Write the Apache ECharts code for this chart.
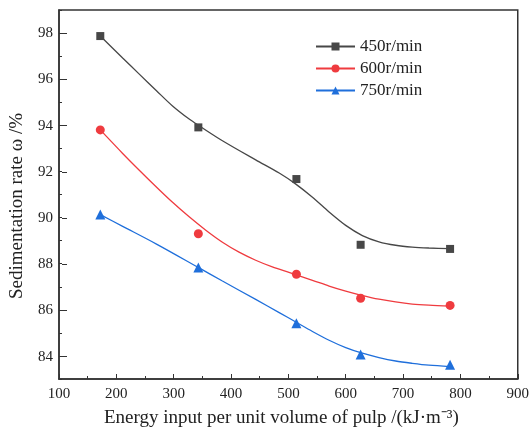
<!DOCTYPE html>
<html>
<head>
<meta charset="utf-8">
<script src="https://cdn.jsdelivr.net/npm/echarts@6/dist/echarts.min.js"></script>
<style>
html,body{margin:0;padding:0;background:#fff}
#main{width:532px;height:433px}
</style>
</head>
<body>
<div id="main"></div>
<script>
// 测量点
var energy=[172,343,514,626,782];
var speedNames=['450r/min','600r/min','750r/min'];
var rate450=[97.87,93.91,91.67,88.82,88.64];
var rate600=[93.80,89.30,87.54,86.50,86.19];
var rate750=[90.13,87.83,85.42,84.06,83.62];
// 拟合曲线
var fitX450=[172,211,240,270,298,327,345,385,443,484,513,542,571,600,629,658,687,716,745,782];
var fit450=[97.87,96.92,96.22,95.50,94.84,94.27,93.97,93.33,92.50,91.93,91.45,90.88,90.24,89.66,89.22,88.95,88.80,88.72,88.68,88.65];
var fitX600=[172,211,240,272,298,327,356,385,414,443,472,501,542,571,600,626,658,687,716,745,782];
var fit600=[93.80,92.78,92.05,91.27,90.66,90.03,89.45,88.93,88.50,88.15,87.86,87.62,87.28,87.03,86.81,86.64,86.46,86.34,86.25,86.20,86.16];
var fitX750=[172,211,270,342,385,443,484,513,542,571,600,626,658,687,716,745,782];
var fit750=[90.13,89.62,88.85,87.85,87.25,86.45,85.88,85.47,85.06,84.68,84.36,84.14,83.93,83.78,83.68,83.60,83.54];
var colors=['#474747','#ef3b3f','#1f6fdb'];
var symbols=['rect','circle','triangle'];
var symbolSizes=[8,9,10];

(function(dom){
    var chart={
        font:'"Liberation Serif","Times New Roman",serif',
        pair:function(xs,ys){
            var out=[];
            for(var i=0;i<xs.length;i++){
                out.push([xs[i],ys[i]]);
            }
            return out;
        },
        init:function(){
            var f=this.font;
            var fits=[this.pair(fitX450,fit450),this.pair(fitX600,fit600),this.pair(fitX750,fit750)];
            var pts=[rate450,rate600,rate750];
            var series=[];
            //拟合曲线
            for(var i=0;i<3;i++){
                series.push({
                    name:speedNames[i],
                    type:'line',
                    smooth:0.3,
                    symbol:symbols[i],
                    symbolSize:symbolSizes[i],
                    showSymbol:false,
                    xAxisIndex:0,
                    yAxisIndex:0,
                    itemStyle:{color:colors[i]},
                    lineStyle:{color:colors[i],width:1.3},
                    data:fits[i],
                    z:2
                });
            }
            //实验点
            for(var j=0;j<3;j++){
                series.push({
                    name:speedNames[j],
                    type:'scatter',
                    symbol:symbols[j],
                    symbolSize:symbolSizes[j],
                    xAxisIndex:0,
                    yAxisIndex:0,
                    itemStyle:{color:colors[j],opacity:1},
                    data:this.pair(energy,pts[j]),
                    z:3
                });
            }
            var option={
                animation:false,
                backgroundColor:'#fff',
                grid:[
                    {left:59,right:13,top:10,bottom:53,show:true,borderColor:'#333',borderWidth:1.5},
                    {left:59,right:13,top:33.3,bottom:76.3}
                ],
                legend:{
                    data:speedNames,
                    orient:'vertical',
                    left:310,
                    top:33,
                    itemWidth:39,
                    itemHeight:10,
                    itemGap:5,
                    textStyle:{fontFamily:f,fontSize:17,color:'#222'}
                },
                xAxis:[
                    {
                        gridIndex:0,type:'value',min:100,max:900,interval:100,
                        name:'Energy input per unit volume of pulp /(kJ·m⁻³)',
                        nameLocation:'middle',nameGap:30,
                        nameTextStyle:{fontFamily:f,fontSize:19,color:'#222',padding:[0,14,0,0]},
                        axisLine:{lineStyle:{color:'#333',width:1.5}},
                        axisTick:{inside:true,length:5,lineStyle:{color:'#333'}},
                        minorTick:{show:true,splitNumber:2,length:3,lineStyle:{color:'#333'}},
                        axisLabel:{fontFamily:f,fontSize:15,color:'#222',margin:8},
                        splitLine:{show:false}
                    },
                    {gridIndex:1,type:'value',min:100,max:900,show:false}
                ],
                yAxis:[
                    {
                        gridIndex:0,type:'value',min:83,max:99,interval:1,
                        axisLine:{lineStyle:{color:'#333',width:1.5}},
                        axisTick:{inside:true,length:3,lineStyle:{color:'#333'}},
                        axisLabel:{show:false},
                        splitLine:{show:false}
                    },
                    {
                        gridIndex:1,type:'value',min:84,max:98,interval:2,
                        name:'Sedimentation rate ω /%',
                        nameLocation:'middle',nameGap:35,
                        nameTextStyle:{fontFamily:f,fontSize:19,color:'#222',padding:[0,0,0,-22]},
                        axisLine:{show:false},
                        axisTick:{inside:true,length:5,lineStyle:{color:'#333'}},
                        axisLabel:{fontFamily:f,fontSize:15,color:'#222',margin:9},
                        splitLine:{show:false}
                    }
                ],
                series:series
            };
            echarts.init(dom.getElementById('main')).setOption(option);
        }
    };
    chart.init();
})(document);
</script>
</body>
</html>
